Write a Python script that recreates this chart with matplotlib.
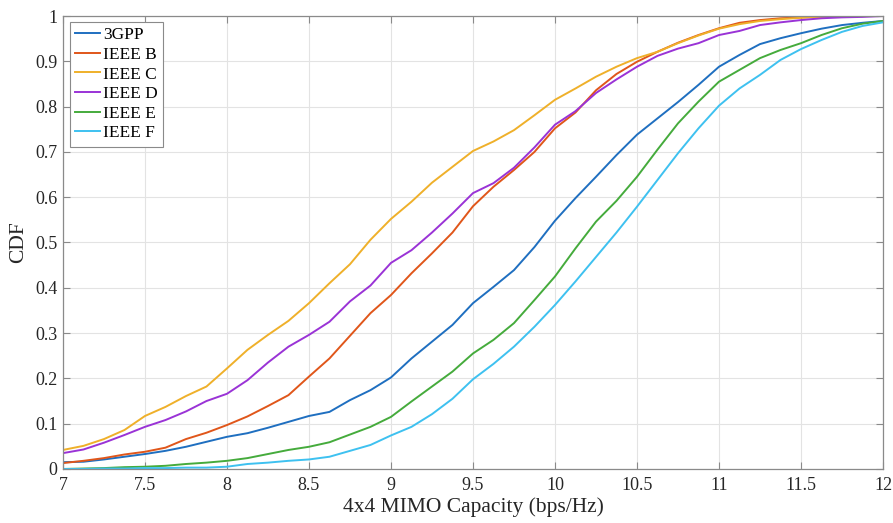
import matplotlib
matplotlib.use("Agg")
import matplotlib.pyplot as plt

plt.rcParams['font.family'] = ['Liberation Serif', 'DejaVu Serif']

capacity = [7.0, 7.125, 7.25, 7.375, 7.5, 7.625, 7.75, 7.875, 8.0, 8.125,
            8.25, 8.375, 8.5, 8.625, 8.75, 8.875, 9.0, 9.125, 9.25, 9.375,
            9.5, 9.625, 9.75, 9.875, 10.0, 10.125, 10.25, 10.375, 10.5, 10.625,
            10.75, 10.875, 11.0, 11.125, 11.25, 11.375, 11.5, 11.625, 11.75, 11.875,
            12.0]

cdf_3gpp = [0.015, 0.016, 0.021, 0.027, 0.033, 0.040, 0.049, 0.060, 0.071, 0.079,
            0.091, 0.104, 0.117, 0.126, 0.152, 0.174, 0.202, 0.244, 0.281, 0.318,
            0.366, 0.402, 0.439, 0.490, 0.548, 0.598, 0.645, 0.693, 0.738, 0.774,
            0.810, 0.848, 0.888, 0.914, 0.938, 0.951, 0.962, 0.972, 0.980, 0.985,
            0.989]
cdf_ieee_b = [0.013, 0.018, 0.024, 0.032, 0.038, 0.047, 0.066, 0.080, 0.097, 0.116,
              0.139, 0.163, 0.204, 0.244, 0.294, 0.344, 0.384, 0.432, 0.476, 0.522,
              0.580, 0.623, 0.660, 0.700, 0.752, 0.787, 0.836, 0.872, 0.899, 0.921,
              0.941, 0.958, 0.973, 0.985, 0.991, 0.995, 0.997, 0.999, 1.0, 1.0,
              1.0]
cdf_ieee_c = [0.042, 0.051, 0.066, 0.086, 0.117, 0.137, 0.161, 0.182, 0.222, 0.263,
              0.296, 0.327, 0.366, 0.410, 0.452, 0.506, 0.552, 0.590, 0.632, 0.667,
              0.702, 0.723, 0.748, 0.781, 0.815, 0.840, 0.866, 0.888, 0.907, 0.921,
              0.940, 0.957, 0.972, 0.982, 0.989, 0.993, 0.996, 0.998, 0.999, 1.0,
              1.0]
cdf_ieee_d = [0.035, 0.043, 0.058, 0.075, 0.093, 0.108, 0.127, 0.150, 0.166, 0.196,
              0.235, 0.270, 0.296, 0.325, 0.370, 0.405, 0.455, 0.483, 0.522, 0.564,
              0.609, 0.631, 0.665, 0.710, 0.760, 0.790, 0.830, 0.860, 0.888, 0.912,
              0.928, 0.940, 0.958, 0.967, 0.980, 0.986, 0.991, 0.995, 0.997, 0.998,
              1.0]
cdf_ieee_e = [0.0, 0.001, 0.002, 0.004, 0.005, 0.007, 0.011, 0.014, 0.018, 0.024,
              0.033, 0.042, 0.049, 0.059, 0.076, 0.093, 0.115, 0.149, 0.182, 0.215,
              0.255, 0.285, 0.322, 0.373, 0.425, 0.487, 0.546, 0.592, 0.645, 0.705,
              0.763, 0.811, 0.855, 0.881, 0.907, 0.925, 0.940, 0.958, 0.973, 0.983,
              0.989]
cdf_ieee_f = [0.0, 0.0, 0.001, 0.001, 0.002, 0.002, 0.003, 0.003, 0.005, 0.011,
              0.014, 0.018, 0.021, 0.027, 0.040, 0.053, 0.074, 0.093, 0.121, 0.155,
              0.198, 0.232, 0.270, 0.314, 0.362, 0.414, 0.468, 0.522, 0.579, 0.638,
              0.697, 0.752, 0.802, 0.840, 0.870, 0.903, 0.927, 0.947, 0.965, 0.978,
              0.986]

labels = ['3GPP', 'IEEE B', 'IEEE C', 'IEEE D', 'IEEE E', 'IEEE F']
series = [cdf_3gpp, cdf_ieee_b, cdf_ieee_c, cdf_ieee_d, cdf_ieee_e, cdf_ieee_f]
colors = ['#1f6fc0', '#e0561a', '#efb02a', '#9a33d6', '#45ab3c', '#3ec1f0']

xticks = [7, 7.5, 8, 8.5, 9, 9.5, 10, 10.5, 11, 11.5, 12]
xticklabels = ['7', '7.5', '8', '8.5', '9', '9.5', '10', '10.5', '11', '11.5', '12']
yticks = [0, 0.1, 0.2, 0.3, 0.4, 0.5, 0.6, 0.7, 0.8, 0.9, 1]
yticklabels = ['0', '0.1', '0.2', '0.3', '0.4', '0.5', '0.6', '0.7', '0.8', '0.9', '1']

fig = plt.figure(figsize=(8.93, 5.23), dpi=100)
ax = fig.add_axes([0.0705, 0.1033, 0.9183, 0.8661])

for vals, lab, col in zip(series, labels, colors):
    ax.plot(capacity, vals, color=col, lw=1.4, label=lab)

ax.set_xlim(7, 12)
ax.set_ylim(0, 1)
ax.set_xticks(xticks)
ax.set_xticklabels(xticklabels)
ax.set_yticks(yticks)
ax.set_yticklabels(yticklabels)
ax.grid(True, color='#e3e3e3', lw=0.8)
ax.set_axisbelow(True)
ax.tick_params(direction='in', length=5, width=0.8, color='#8a8a8a',
               labelsize=13, labelcolor='#262626', top=True, right=True)
ax.tick_params(axis='x', pad=6)
ax.tick_params(axis='y', pad=4)
for sp in ax.spines.values():
    sp.set_color('#8a8a8a')
    sp.set_linewidth(0.9)

ax.set_xlabel('4x4 MIMO Capacity (bps/Hz)', fontsize=15.5, color='#262626', labelpad=2)
ax.set_ylabel('CDF', fontsize=15.5, color='#262626', labelpad=5)

leg = ax.legend(loc='upper left', bbox_to_anchor=(0.0085, 0.987), fontsize=12.5,
                handlelength=1.45, handletextpad=0.15, borderpad=0.3,
                labelspacing=0.2, borderaxespad=0.0, fancybox=False,
                framealpha=1.0)
leg.get_frame().set_edgecolor('#8a8a8a')
leg.get_frame().set_linewidth(0.8)

fig.savefig('out.png', dpi=100)
